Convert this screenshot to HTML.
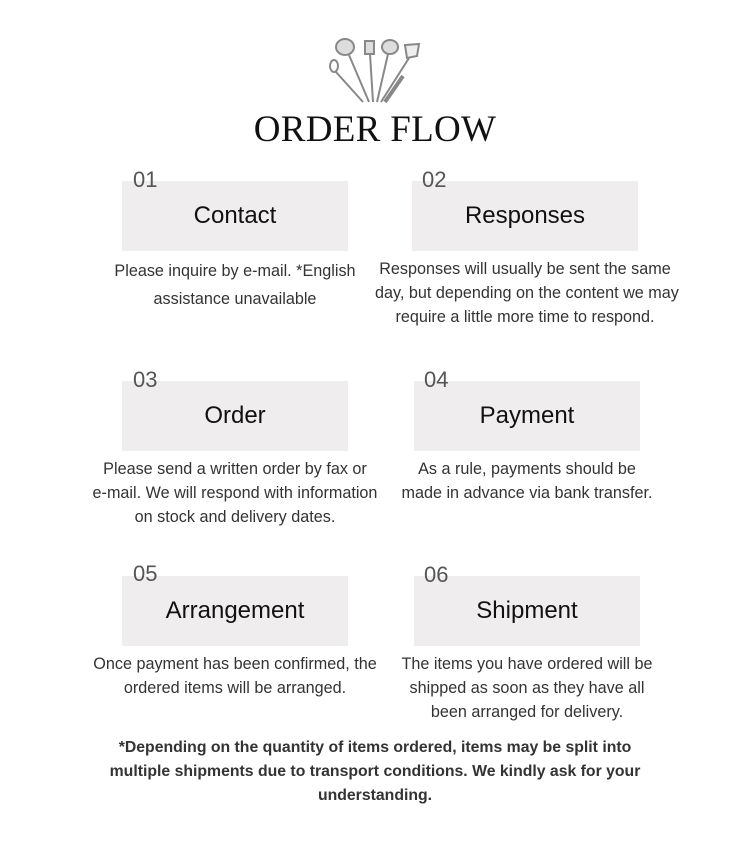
<!DOCTYPE html>
<html><head><style>
body{margin:0;width:750px;height:849px;background:#fff;position:relative;font-family:"Liberation Sans",Arial,sans-serif;overflow:hidden}
.box{position:absolute;width:226px;height:70px;background:#efeded}
.t{position:absolute;left:0;right:0;top:21px;text-align:center;font-size:24px;color:#111}
.n{position:absolute;font-size:22px;color:#555;line-height:1}
.d{position:absolute;text-align:center;font-size:16.2px;color:#333;line-height:24px;white-space:nowrap}
h1{position:absolute;top:108px;left:0;width:750px;margin:0;text-align:center;font-family:"Liberation Serif",serif;font-weight:normal;font-size:37px;color:#111;letter-spacing:0.3px}
</style></head><body>
<svg style="position:absolute;left:325px;top:36px" width="100" height="70" viewBox="0 0 100 70" fill="none" stroke="#888" stroke-width="2">
<ellipse cx="20" cy="11" rx="9" ry="8" fill="#ddd"/><line x1="24" y1="19" x2="44" y2="66"/>
<rect x="40" y="5" width="9" height="13" fill="#ddd"/><line x1="45" y1="18" x2="48" y2="66"/>
<ellipse cx="65" cy="11" rx="8" ry="7" fill="#ddd"/><line x1="63" y1="18" x2="52" y2="66"/>
<path d="M80 9 L94 8 L92 20 L82 22 Z" fill="#eee"/><line x1="84" y1="22" x2="56" y2="66"/>
<ellipse cx="9" cy="30" rx="4" ry="6"/><line x1="11" y1="36" x2="38" y2="66"/>
<line x1="78" y1="40" x2="60" y2="66" stroke-width="4"/>
</svg>
<h1>ORDER FLOW</h1>

<div class="box" style="left:122px;top:181px"><div class="t">Contact</div></div>
<div class="n" style="left:133px;top:169px">01</div>
<div class="box" style="left:412px;top:181px"><div class="t">Responses</div></div>
<div class="n" style="left:422px;top:169px">02</div>
<div class="d" style="left:85px;width:300px;top:257px;line-height:28px">Please inquire by e-mail. *English<br>assistance unavailable</div>
<div class="d" style="left:375px;width:300px;top:257px">Responses will usually be sent the same<br>day, but depending on the content we may<br>require a little more time to respond.</div>

<div class="box" style="left:122px;top:381px"><div class="t">Order</div></div>
<div class="n" style="left:133px;top:369px">03</div>
<div class="box" style="left:414px;top:381px"><div class="t">Payment</div></div>
<div class="n" style="left:424px;top:369px">04</div>
<div class="d" style="left:85px;width:300px;top:457px">Please send a written order by fax or<br>e-mail. We will respond with information<br>on stock and delivery dates.</div>
<div class="d" style="left:377px;width:300px;top:457px">As a rule, payments should be<br>made in advance via bank transfer.</div>

<div class="box" style="left:122px;top:576px"><div class="t">Arrangement</div></div>
<div class="n" style="left:133px;top:563px">05</div>
<div class="box" style="left:414px;top:576px"><div class="t">Shipment</div></div>
<div class="n" style="left:424px;top:564px">06</div>
<div class="d" style="left:85px;width:300px;top:652px">Once payment has been confirmed, the<br>ordered items will be arranged.</div>
<div class="d" style="left:377px;width:300px;top:652px">The items you have ordered will be<br>shipped as soon as they have all<br>been arranged for delivery.</div>

<div class="d" style="left:75px;width:600px;top:736px;font-weight:bold;color:#333;font-size:15.8px">*Depending on the quantity of items ordered, items may be split into<br>multiple shipments due to transport conditions. We kindly ask for your<br>understanding.</div>
</body></html>
